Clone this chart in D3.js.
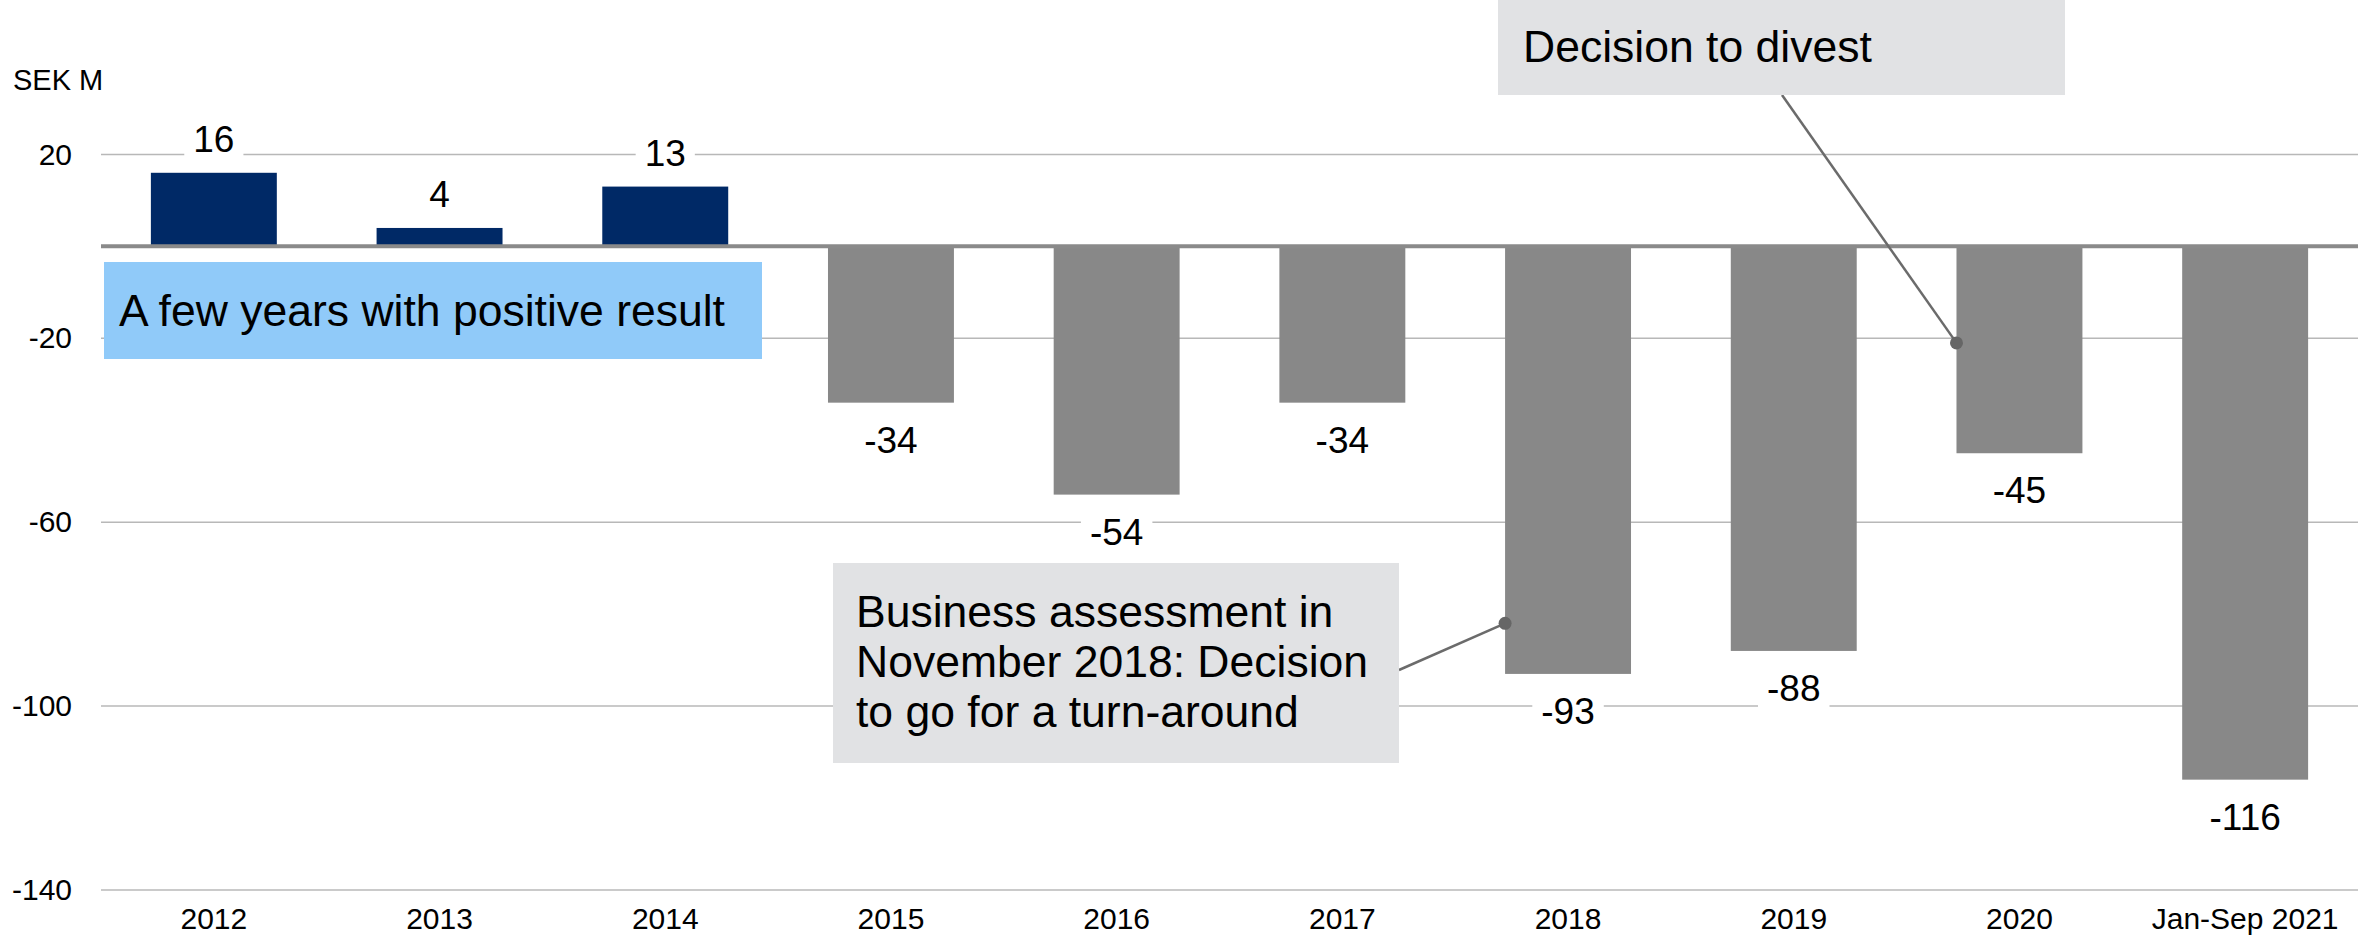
<!DOCTYPE html>
<html>
<head>
<meta charset="utf-8">
<script src="https://d3js.org/d3.v7.min.js"></script>
<style>
  body { margin: 0; background: #fff; }
  svg { display: block; font-family: "Liberation Sans", Arial, sans-serif; }
</style>
</head>
<body>
<script>
    // data
    var categories = ["2012", "2013", "2014", "2015", "2016", "2017", "2018", "2019", "2020", "Jan-Sep 2021"];
    var values = [16, 4, 13, -34, -54, -34, -93, -88, -45, -116];
    var yTicks = [20, -20, -60, -100, -140];
    var unitLabel = "SEK M";

    // callouts: anchor category + value on the bar
    var callouts = [
        {cat: "2018", value: -82, lines: ["Business assessment in", "November 2018: Decision", "to go for a turn-around"]},
        {cat: "2020", value: -21, lines: ["Decision to divest"]}
    ];
    var noteText = "A few years with positive result";

    var W = 2362, H = 940;
    var plotLeft = 101, plotRight = 2358, plotTop = 154.4, plotBottom = 890;

    var svg = d3.select("body").append("svg")
        .attr("width", W).attr("height", H);

    var x = d3.scaleBand().domain(categories).range([plotLeft, plotRight])
        .paddingInner(0.442).paddingOuter(0.221);
    var y = d3.scaleLinear().domain([-140, 20]).range([plotBottom, plotTop]);

    // gridlines
    svg.selectAll(".grid").data(yTicks).enter().append("line")
        .attr("x1", plotLeft).attr("x2", plotRight)
        .attr("y1", function(d){ return y(d); }).attr("y2", function(d){ return y(d); })
        .attr("stroke", "#b8b8b8").attr("stroke-width", 1.5);

    // y axis labels (plain hyphen minus like the original)
    var yAxis = svg.append("g")
        .attr("transform", "translate(" + plotLeft + ",0)")
        .call(d3.axisLeft(y).tickValues(yTicks).tickSize(0).tickPadding(29)
            .tickFormat(function(d){ return String(d); }));
    yAxis.select(".domain").remove();
    yAxis.selectAll("text").style("font-size", "30px").style("font-family", "Liberation Sans, Arial, sans-serif").attr("fill", "#000");

    // x axis labels
    var xAxis = svg.append("g")
        .attr("transform", "translate(0," + plotBottom + ")")
        .call(d3.axisBottom(x).tickSize(0).tickPadding(18));
    xAxis.select(".domain").remove();
    xAxis.selectAll("text").style("font-size", "30px").style("font-family", "Liberation Sans, Arial, sans-serif").attr("fill", "#000");

    svg.append("text").attr("x", 13).attr("y", 90)
        .style("font-size", "29px").text(unitLabel);

    // bars
    svg.selectAll(".bar").data(categories).enter().append("rect")
        .attr("x", function(d){ return x(d); })
        .attr("width", x.bandwidth())
        .attr("y", function(d, i){ return y(Math.max(0, values[i])); })
        .attr("height", function(d, i){ return Math.abs(y(values[i]) - y(0)); })
        .attr("fill", function(d, i){ return values[i] >= 0 ? "#002966" : "#888888"; });

    // zero line
    svg.append("line")
        .attr("x1", plotLeft).attr("x2", plotRight)
        .attr("y1", y(0)).attr("y2", y(0))
        .attr("stroke", "#8a8a8a").attr("stroke-width", 4);

    // value labels with white backing
    var lab = svg.selectAll(".vlab").data(categories).enter().append("g");
    lab.append("text")
        .attr("x", function(d){ return x(d) + x.bandwidth() / 2; })
        .attr("y", function(d, i){ return values[i] >= 0 ? y(values[i]) - 21 : y(values[i]) + 50; })
        .attr("text-anchor", "middle")
        .style("font-size", "37px")
        .text(function(d, i){ return values[i]; });
    lab.each(function(){
        var g = d3.select(this);
        var b = g.select("text").node().getBBox();
        g.insert("rect", "text")
            .attr("x", b.x - 9).attr("y", b.y + 2)
            .attr("width", b.width + 18).attr("height", b.height - 2)
            .attr("fill", "#fff");
    });

    // blue note box
    svg.append("rect").attr("x", 104).attr("y", 262).attr("width", 658).attr("height", 97)
        .attr("fill", "#90caf9");
    svg.append("text").attr("x", 119).attr("y", 326)
        .style("font-size", "44.5px").text(noteText);

    // callout connectors
    var boxes = [
        {x: 833, y: 563, w: 566, h: 200, tx: 856, ty: 627, lh: 50, ex: 1399, ey: 670},
        {x: 1498, y: -10, w: 567, h: 105, tx: 1523, ty: 62, lh: 50, ex: 1782, ey: 95}
    ];
    callouts.forEach(function(c, i){
        var b = boxes[i];
        var px = x(c.cat), py = y(c.value);
        svg.append("line")
            .attr("x1", px).attr("y1", py).attr("x2", b.ex).attr("y2", b.ey)
            .attr("stroke", "#6b6b6b").attr("stroke-width", 2.5);
        svg.append("circle").attr("cx", px).attr("cy", py).attr("r", 6.5)
            .attr("fill", "#666");
        svg.append("rect").attr("x", b.x).attr("y", b.y).attr("width", b.w).attr("height", b.h)
            .attr("fill", "#e1e2e4");
        var t = svg.append("text").attr("x", b.tx).attr("y", b.ty).style("font-size", "44.5px");
        c.lines.forEach(function(l, j){
            t.append("tspan").attr("x", b.tx).attr("y", b.ty + j * b.lh).text(l);
        });
    });
</script>
</body>
</html>
